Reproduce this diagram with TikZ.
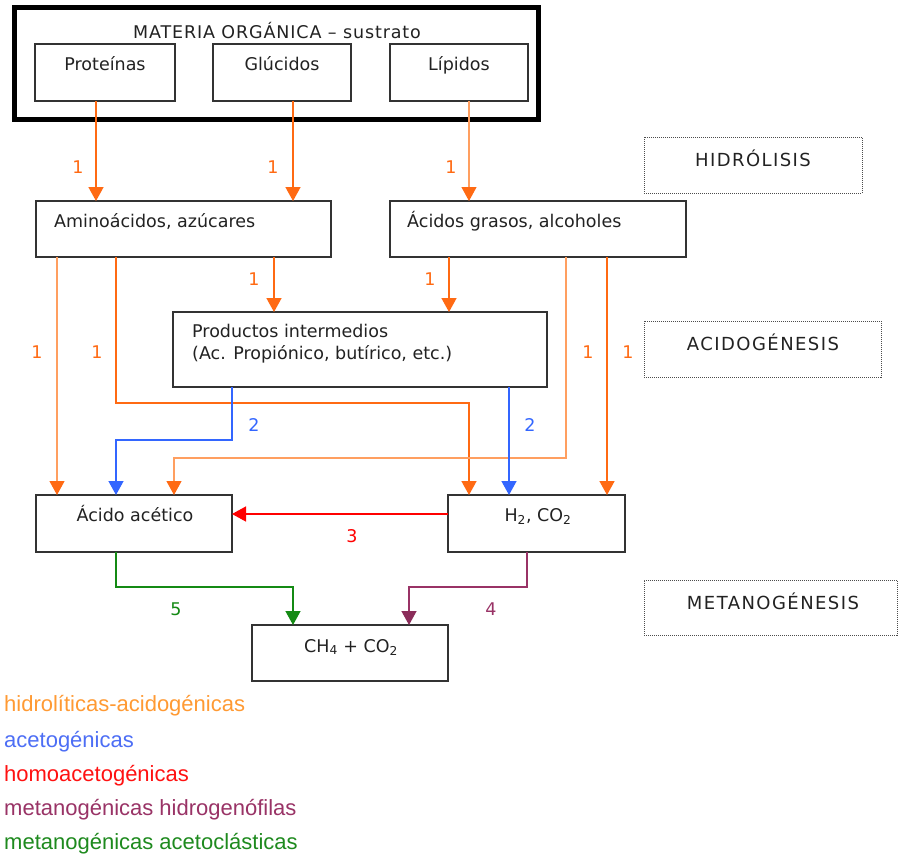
\documentclass[tikz,border=0pt]{standalone}
\usepackage{fontspec}
\setmainfont{DejaVu Sans}
\newfontfamily\legfamily{Liberation Sans}
\newfontfamily\spacedfamily[LetterSpace=8]{DejaVu Sans}
\newfontfamily\matfamily[LetterSpace=5]{DejaVu Sans}
\usetikzlibrary{arrows.meta}
\definecolor{orng}{HTML}{FF6A13}
\definecolor{lorng}{HTML}{FF9F60}
\definecolor{blu}{HTML}{3366FF}
\definecolor{rd}{HTML}{FF0000}
\definecolor{grn}{HTML}{148A14}
\definecolor{prp}{HTML}{993366}
\definecolor{prpd}{HTML}{8B2D5A}
\definecolor{txtc}{HTML}{222222}
\definecolor{legor}{HTML}{FF9A33}
\definecolor{legbl}{HTML}{4D6EF5}
\definecolor{legrd}{HTML}{FF1111}
\definecolor{legpr}{HTML}{993366}
\definecolor{leggr}{HTML}{1E8A1E}
\newcommand\boxfnt{\fontsize{17.5pt}{21pt}\selectfont}
\newcommand\phfnt{\spacedfamily\fontsize{18pt}{21pt}\selectfont}
\newcommand\matfnt{\matfamily\fontsize{17.5pt}{21pt}\selectfont}
\newcommand\legfnt{\legfamily\fontsize{22pt}{26pt}\selectfont}
\tikzset{
  box/.style={draw=black!80, line width=1.5pt, inner sep=0pt, outer sep=0pt, anchor=north west},
  phase/.style={draw=black!70, line width=1pt, dash pattern=on 1pt off 1pt, inner sep=0pt, outer sep=0pt, anchor=north west},
  txt/.style={inner sep=0pt, text=txtc, font=\boxfnt},
  phtxt/.style={inner sep=0pt, text=txtc, font=\phfnt, anchor=base},
  lbl/.style={inner sep=0pt, anchor=base, font=\boxfnt},
  leg/.style={inner sep=0pt, anchor=base west, font=\legfnt},
  oarr/.style={draw=orng, line width=1.6pt, -{Triangle[width=15pt,length=14pt,color=orng]}},
  larr/.style={draw=lorng, line width=1.1pt, -{Triangle[width=15pt,length=14pt,color=orng]}},
  barr/.style={draw=blu, line width=1.4pt, -{Triangle[width=15pt,length=14pt,color=blu]}},
  rarr/.style={draw=rd, line width=1.4pt, -{Triangle[width=15pt,length=14pt,color=rd]}},
  garr/.style={draw=grn, line width=1.4pt, -{Triangle[width=15pt,length=14pt,color=grn]}},
  parr/.style={draw=prp, line width=1.4pt, -{Triangle[width=15pt,length=14pt,color=prpd]}},
}
\begin{document}
\begin{tikzpicture}[x=1pt,y=-1pt]
\useasboundingbox (0,0) rectangle (898,857);
\fill[white] (0,0) rectangle (898,857);

% outer box
\node[draw=black, line width=5pt, inner sep=0pt, outer sep=0pt, minimum width=523.5pt, minimum height=112pt, anchor=north west] (mat) at (14.5,7.5) {};

% boxes
\node[box, minimum width=140pt, minimum height=57pt] (prot) at (35,44) {};
\node[box, minimum width=138pt, minimum height=57pt] (gluc) at (213,44) {};
\node[box, minimum width=138pt, minimum height=57pt] (lip) at (390,44) {};
\node[box, minimum width=295pt, minimum height=56pt] (ami) at (36,201) {};
\node[box, minimum width=296pt, minimum height=56pt] (acg) at (390,201) {};
\node[box, minimum width=374pt, minimum height=75pt] (prod) at (173,312) {};
\node[box, minimum width=196pt, minimum height=57pt] (acet) at (36,495) {};
\node[box, minimum width=177pt, minimum height=57pt] (hco) at (448,495) {};
\node[box, minimum width=196pt, minimum height=56pt] (ch4) at (252,625) {};
\node[phase, minimum width=218pt, minimum height=56pt] (hid) at (644,137) {};
\node[phase, minimum width=237pt, minimum height=56pt] (acid) at (644,321) {};
\node[phase, minimum width=253pt, minimum height=55pt] (met) at (644,580) {};

% texts
\node[txt, anchor=base, font=\matfnt] (matT) at (277,38.5) {MATERIA ORGÁNICA – sustrato};
\node[txt, anchor=base] (protT) at (105,70.5) {Proteínas};
\node[txt, anchor=base] (glucT) at (282,70.5) {Glúcidos};
\node[txt, anchor=base] (lipT) at (459,70.5) {Lípidos};
\node[txt, anchor=base west] (amiT) at (54,227.5) {Aminoácidos, azúcares};
\node[txt, anchor=base west] (acgT) at (407,227.5) {Ácidos grasos, alcoholes};
\node[txt, anchor=base west] (prodT1) at (192,337) {Productos intermedios};
\node[txt, anchor=base west] (prodT2) at (192,359) {(Ac. Propiónico, butírico, etc.)};
\node[txt, anchor=base] (acetT) at (135,521.5) {Ácido acético};
\node[txt, anchor=base] (hcoT) at (538,521.5) {H\textsubscript{2}, CO\textsubscript{2}};
\node[txt, anchor=base] (ch4T) at (351,652) {CH\textsubscript{4} + CO\textsubscript{2}};
\node[phtxt] (hidT) at (753,166.5) {HIDRÓLISIS};
\node[phtxt] (acidT) at (763,350.5) {ACIDOGÉNESIS};
\node[phtxt] (metT) at (773,609) {METANOGÉNESIS};

% column / row helpers
\coordinate (xA) at (57,0);
\coordinate (xB) at (96,0);
\coordinate (xC) at (116,0);
\coordinate (xD) at (174,0);
\coordinate (xE) at (232,0);
\coordinate (xF) at (274,0);
\coordinate (xG) at (293,0);
\coordinate (xH) at (409,0);
\coordinate (xI) at (449,0);
\coordinate (xJ) at (469,0);
\coordinate (xK) at (509,0);
\coordinate (xL) at (527,0);
\coordinate (xM) at (566,0);
\coordinate (xN) at (607,0);
\coordinate (yA) at (0,403);
\coordinate (yB) at (0,440);
\coordinate (yC) at (0,458);
\coordinate (yD) at (0,514);
\coordinate (yE) at (0,587);

% connectors
\draw[oarr] (prot.south -| xB) -- (ami.north -| xB);
\draw[oarr] (gluc.south -| xG) -- (ami.north -| xG);
\draw[larr] (lip.south -| xJ) -- (acg.north -| xJ);
\draw[oarr] (ami.south -| xF) -- (prod.north -| xF);
\draw[oarr] (acg.south -| xI) -- (prod.north -| xI);
\draw[larr] (ami.south -| xA) -- (acet.north -| xA);
\draw[oarr] (ami.south -| xC) -- (xC |- yA) -- (xJ |- yA) -- (hco.north -| xJ);
\draw[larr] (acg.south -| xM) -- (xM |- yC) -- (xD |- yC) -- (acet.north -| xD);
\draw[oarr] (acg.south -| xN) -- (hco.north -| xN);
\draw[barr] (prod.south -| xE) -- (xE |- yB) -- (xC |- yB) -- (acet.north -| xC);
\draw[barr] (prod.south -| xK) -- (hco.north -| xK);
\draw[rarr] (hco.west |- yD) -- (acet.east |- yD);
\draw[garr] (acet.south -| xC) -- (xC |- yE) -- (xG |- yE) -- (ch4.north -| xG);
\draw[parr] (hco.south -| xL) -- (xL |- yE) -- (xH |- yE) -- (ch4.north -| xH);

% labels
\node[lbl, text=orng] (l1) at (78,173) {1};
\node[lbl, text=orng] (l2) at (273,173) {1};
\node[lbl, text=orng] (l3) at (451,173) {1};
\node[lbl, text=orng] (l4) at (254,285) {1};
\node[lbl, text=orng] (l5) at (430,285) {1};
\node[lbl, text=orng] (l6) at (37,358) {1};
\node[lbl, text=orng] (l7) at (97,358) {1};
\node[lbl, text=orng] (l8) at (588,358) {1};
\node[lbl, text=orng] (l9) at (628,358) {1};
\node[lbl, text=blu] (l10) at (254,431.5) {2};
\node[lbl, text=blu] (l11) at (530,431.5) {2};
\node[lbl, text=rd] (l12) at (352,542) {3};
\node[lbl, text=grn] (l13) at (176,615) {5};
\node[lbl, text=prp] (l14) at (491,615) {4};

% legend
\node[leg, text=legor] (g1) at (4,711) {hidrolíticas-acidogénicas};
\node[leg, text=legbl] (g2) at (4,747) {acetogénicas};
\node[leg, text=legrd] (g3) at (4,781) {homoacetogénicas};
\node[leg, text=legpr] (g4) at (4,815) {metanogénicas hidrogenófilas};
\node[leg, text=leggr] (g5) at (4,849) {metanogénicas acetoclásticas};
\end{tikzpicture}
\end{document}
